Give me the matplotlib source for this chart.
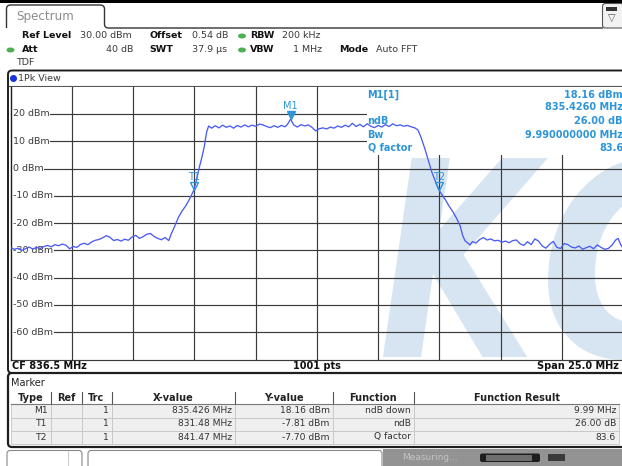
import numpy as np
import matplotlib
matplotlib.use("Agg")
import matplotlib.pyplot as plt
from matplotlib.patches import Rectangle, FancyBboxPatch, Ellipse, PathPatch
from matplotlib.path import Path
from matplotlib.textpath import TextPath
from matplotlib.font_manager import FontProperties
from matplotlib.transforms import Affine2D, offset_copy

# analyzer settings
cf = 836.5
span = 25.0
ref_level = 30.0
offset_db = 0.54
rbw_khz = 200
vbw_mhz = 1
att_db = 40
swt_us = 37.9
n_pts = 1001

# trace (MHz, dBm)
freq = [824.00, 824.15, 824.30, 824.45, 824.60, 824.75, 824.90, 825.05, 825.20, 825.35,
        825.50, 825.65, 825.80, 825.95, 826.10, 826.25, 826.40, 826.55, 826.70, 826.85,
        827.00, 827.15, 827.30, 827.45, 827.60, 827.75, 827.90, 828.05, 828.20, 828.35,
        828.50, 828.65, 828.80, 828.95, 829.10, 829.25, 829.40, 829.55, 829.70, 829.85,
        830.00, 830.15, 830.30, 830.45, 830.55, 830.70, 830.85, 831.00, 831.15, 831.30,
        831.48, 831.60, 831.70, 831.80, 831.90, 832.00, 832.08, 832.20, 832.35, 832.50,
        832.65, 832.80, 832.95, 833.10, 833.25, 833.40, 833.55, 833.70, 833.85, 834.00,
        834.15, 834.30, 834.45, 834.60, 834.75, 834.90, 835.05, 835.20, 835.30, 835.426,
        835.55, 835.70, 835.85, 836.00, 836.15, 836.30, 836.45, 836.60, 836.75, 836.90,
        837.05, 837.20, 837.35, 837.50, 837.65, 837.80, 837.95, 838.10, 838.25, 838.40,
        838.55, 838.70, 838.85, 839.00, 839.15, 839.30, 839.45, 839.60, 839.75, 839.90,
        840.05, 840.20, 840.35, 840.50, 840.62, 840.75, 840.90, 841.05, 841.20, 841.35,
        841.47, 841.60, 841.75, 841.90, 842.05, 842.20, 842.35, 842.45, 842.55, 842.65,
        842.75, 842.85, 843.00, 843.15, 843.30, 843.45, 843.60, 843.75, 843.90, 844.05,
        844.20, 844.35, 844.50, 844.65, 844.80, 844.95, 845.10, 845.25, 845.40, 845.55,
        845.70, 845.85, 846.00, 846.15, 846.30, 846.45, 846.60, 846.75, 846.90, 847.05,
        847.20, 847.35, 847.50, 847.65, 847.80, 847.95, 848.10, 848.25, 848.40, 848.55,
        848.70, 848.80, 848.90, 849.00]
level = [-29.0, -29.6, -29.2, -30.0, -29.4, -28.8, -29.5, -28.9, -29.3, -28.6,
         -28.2, -28.7, -27.9, -28.3, -27.7, -28.1, -29.4, -28.6, -28.9, -27.8,
         -27.4, -27.9, -26.9, -26.3, -26.0, -25.4, -24.6, -25.2, -26.4, -26.0,
         -26.6, -25.9, -26.3, -25.1, -24.5, -25.6, -25.0, -24.1, -23.8, -24.9,
         -25.6, -26.1, -25.3, -26.4, -24.0, -21.0, -17.8, -15.5, -13.6, -11.2,
         -7.81, -3.5, 0.5, 4.0, 8.0, 13.5, 15.6, 14.8, 15.7, 14.9,
         15.9, 15.1, 15.6, 14.8, 15.8, 15.2, 16.0, 15.3, 15.9, 15.5,
         16.3, 16.0, 15.4, 15.0, 15.7, 15.1, 15.8, 15.3, 16.2, 18.16,
         16.0, 15.2, 16.1, 15.6, 16.0, 15.1, 13.8, 14.6, 14.9, 14.5,
         15.2, 14.8, 15.6, 15.1, 15.9, 15.3, 16.6, 15.4, 16.2, 15.3,
         16.4, 15.5, 15.0, 15.8, 15.2, 16.1, 15.4, 16.4, 15.7, 16.0,
         15.5, 15.8, 15.3, 14.9, 14.2, 11.5, 7.5, 3.0, -1.5, -5.0,
         -7.70, -9.5, -11.5, -13.8, -15.8, -18.2, -21.0, -24.5, -26.5, -27.2,
         -28.0, -26.8, -27.3, -26.0, -25.3, -26.2, -25.8, -26.5, -26.3, -27.0,
         -26.6, -27.2, -26.4, -26.2, -27.6, -28.2, -26.8, -27.9, -25.8, -26.6,
         -28.4, -29.2, -27.8, -26.7, -28.9, -29.3, -27.5, -27.9, -28.8, -29.1,
         -28.4, -29.6, -29.0, -28.5, -29.4, -28.0, -28.9, -29.6, -29.3, -28.1,
         -26.2, -25.6, -27.8, -29.2]

# markers
marker_names = ["M1", "T1", "T2"]
marker_trc = [1, 1, 1]
marker_freq = [835.426, 831.48, 841.47]
marker_level = [18.16, -7.81, -7.70]
marker_func = ["ndB down", "ndB", "Q factor"]
func_result = ["9.99 MHz", "26.00 dB", "83.6"]
ndb = 26.00
bw_mhz = 9.99
q_factor = 83.6

W, H = 622, 466
fig = plt.figure(figsize=(W / 100, H / 100), dpi=100)
bg = fig.add_axes([0, 0, 1, 1])
bg.set_xlim(0, W)
bg.set_ylim(H, 0)
bg.axis("off")

dark = "#1e1e1e"
txt = "#3a3a3a"
mcol = "#2d95d8"
fs = 6.8

# top strip, tab and icon
bg.add_patch(Rectangle((0, 0), W, 2.5, fc="black", ec="none"))
tab = Path([(6.5, 28), (6.5, 9), (6.5, 5), (10.5, 5), (100, 5), (104.5, 5), (104.5, 9),
            (104.5, 24), (104.5, 28), (108.5, 28), (603, 28)],
           [Path.MOVETO, Path.LINETO, Path.CURVE3, Path.CURVE3, Path.LINETO, Path.CURVE3,
            Path.CURVE3, Path.LINETO, Path.CURVE3, Path.CURVE3, Path.LINETO])
bg.add_patch(PathPatch(tab, fc="none", ec="#333", lw=1.0))
bg.text(16, 16.5, "Spectrum", fontsize=8.6, color="#8c8c8c", va="center")
bg.add_patch(FancyBboxPatch((602.5, 3.5), 22, 24.5, boxstyle="round,pad=0,rounding_size=3",
                            fc="#f2f2f2", ec="#555", lw=0.8))
bg.add_patch(Rectangle((606, 6.5), 11, 4, fc="#333", ec="none"))
bg.text(611.5, 18, "\u25bd", fontsize=7, color="#555", ha="center", va="center")

# settings header
def label(x, y, s, bold=False, ha="left"):
    bg.text(x, y, s, fontsize=fs, color="#111" if bold else txt, ha=ha, va="center",
            weight="bold" if bold else "normal")

def led(x, y):
    bg.add_patch(Ellipse((x, y), 8, 5, fc="#4cb050", ec="none"))

label(22, 35.5, "Ref Level", True)
label(80, 35.5, f"{ref_level:.2f} dBm")
label(149, 35.5, "Offset", True)
label(192, 35.5, f"{offset_db:.2f} dB")
led(242, 36)
label(250, 35.5, "RBW", True)
label(282, 35.5, f"{rbw_khz} kHz")
led(10.5, 50)
label(22, 50, "Att", True)
label(133, 50, f"{att_db} dB", ha="right")
label(149, 50, "SWT", True)
label(192, 50, f"{swt_us} \u00b5s")
led(242, 50)
label(250, 50, "VBW", True)
label(322, 50, f"{vbw_mhz} MHz", ha="right")
label(339, 50, "Mode", True)
label(376, 50, "Auto FFT")
label(16, 62.5, "TDF")

# panel frames
bg.add_patch(FancyBboxPatch((8, 70.5), 700, 302.5, boxstyle="round,pad=0,rounding_size=4",
                            fc="none", ec=dark, lw=1.4))
bg.add_patch(FancyBboxPatch((8, 373), 700, 74, boxstyle="round,pad=0,rounding_size=4",
                            fc="none", ec=dark, lw=1.6))
bg.plot([9, W], [85.5, 85.5], color="#555", lw=0.8)
bg.add_patch(Ellipse((13.5, 78.5), 7, 7, fc="#1535d8", ec="none"))
label(18.5, 78.5, "1Pk View")

bg.text(12, 366, f"CF {cf} MHz", fontsize=7, weight="bold", color="#111", va="center")
bg.text(317, 366, f"{n_pts} pts", fontsize=7, weight="bold", color="#111", va="center", ha="center")
bg.text(619, 366, f"Span {span} MHz", fontsize=7, weight="bold", color="#111", va="center", ha="right")

# spectrum plot
pl, pr, pt, pb = 10.8, 623.0, 86.7, 359.5
ax = fig.add_axes([pl / W, 1 - pb / H, (pr - pl) / W, (pb - pt) / H])
ax.set_xlim(cf - span / 2, cf + span / 2)
ax.set_ylim(ref_level - 100, ref_level)
ax.set_xticks([])
ax.set_yticks([])
for s in ax.spines.values():
    s.set_visible(False)
ax.spines["left"].set_visible(True)
ax.spines["left"].set_color(dark)
ax.spines["left"].set_linewidth(1.0)

# watermark
wm = FontProperties(family="DejaVu Sans", weight="bold", style="italic")
def glyph(ch, x0, x1, y0, y1):
    p = TextPath((0, 0), ch, size=100, prop=wm)
    e = p.get_extents()
    tr = Affine2D().translate(-e.x0, -e.y0).scale((x1 - x0) / e.width, (y1 - y0) / e.height)
    tr = tr.translate(x0, H - y1)
    ax.add_patch(PathPatch(p, transform=tr, fc="#d6e5f1", ec="none", zorder=0.5))

glyph("K", 383, 548, 158, 357)
glyph("C", 548, 712, 156, 360)

xg = np.linspace(cf - span / 2, cf + span / 2, 11)
yg = np.arange(ref_level - 100, ref_level + 1, 10)
for v in xg[1:-1]:
    ax.axvline(v, color="#3a3a3a", lw=0.85, zorder=1)
for v in yg[:-1]:
    ax.axhline(v, color="#3a3a3a", lw=0.85, zorder=1, clip_on=False)

# marker readout area hides the grid
box_f0 = cf - span / 2 + (366.7 - pl) / (pr - pl) * span
ax.add_patch(Rectangle((box_f0, 5), cf + span / 2 - box_f0, ref_level - 5, fc="white",
                       ec="none", zorder=1.5))

for v in yg[1:-1]:
    ax.text(0.0036, v, f"{v:.0f} dBm", transform=ax.get_yaxis_transform(), fontsize=fs,
            color=txt, va="center", ha="left", zorder=2,
            bbox=dict(fc="white", ec="none", pad=0.6))

ax.plot(freq, level, color="#4b5cf3", lw=0.95, zorder=3)

tri = offset_copy(ax.transData, fig=fig, y=4, units="dots")
lab = offset_copy(ax.transData, fig=fig, y=8, units="dots")
for i, name in enumerate(marker_names):
    filled = name.startswith("M")
    ax.plot(marker_freq[i], marker_level[i], marker="v", ms=6 if filled else 5.5,
            mfc=mcol if filled else "none", mec=mcol, mew=1.0, transform=tri, zorder=4)
    ax.text(marker_freq[i], marker_level[i], name, transform=lab, fontsize=7, color=mcol,
            ha="center", va="bottom", zorder=4)

rd = bg.transData
left_txt = ["M1[1]", "", "ndB", "Bw", "Q factor"]
right_txt = [f"{marker_level[0]:.2f} dBm", f"{marker_freq[0]:.4f} MHz", f"{ndb:.2f} dB",
             f"{bw_mhz:.9f} MHz", f"{q_factor}"]
for i, ytxt in enumerate([94.5, 107.5, 121, 134.5, 148]):
    ax.text(367.5, ytxt, left_txt[i], transform=rd, fontsize=7, weight="bold", color=mcol,
            va="center", ha="left", zorder=5)
    ax.text(623, ytxt, right_txt[i], transform=rd, fontsize=7, weight="bold", color=mcol,
            va="center", ha="right", zorder=5)

# marker table
bg.text(11, 382.5, "Marker", fontsize=7, color="#222", va="center")
cols = [11, 50.5, 81.5, 111.5, 235, 332.5, 414, 619]
heads = ["Type", "Ref", "Trc", "X-value", "Y-value", "Function", "Function Result"]
for j, hd in enumerate(heads):
    bg.text((cols[j] + cols[j + 1]) / 2, 397.8, hd, fontsize=7, weight="bold", color="#222",
            ha="center", va="center")
for c in cols[1:-1]:
    bg.plot([c, c], [392, 404], color="#555", lw=0.8)
bg.plot([cols[0], cols[-1]], [404, 404], color="#777", lw=0.8)

row_y = [404, 417.5, 430.5, 443.5]
for i in range(3):
    cells = [marker_names[i], "", str(marker_trc[i]), f"{marker_freq[i]:g} MHz",
             f"{marker_level[i]:.2f} dBm", marker_func[i], func_result[i]]
    for j in range(7):
        bg.add_patch(Rectangle((cols[j], row_y[i]), cols[j + 1] - cols[j], row_y[i + 1] - row_y[i],
                               fc="#efefef", ec="#c6c6c6", lw=0.6))
        bg.text(cols[j + 1] - 3, (row_y[i] + row_y[i + 1]) / 2, cells[j], fontsize=6.6,
                color="#333", ha="right", va="center")

# status bar
bg.add_patch(Rectangle((0, 448.5), W, 18, fc="white", ec="none"))
bg.add_patch(FancyBboxPatch((7, 450.5), 75, 20, boxstyle="round,pad=0,rounding_size=3",
                            fc="white", ec="#888", lw=0.8))
bg.plot([68, 68], [451, 466], color="#cfcfcf", lw=0.8)
bg.add_patch(FancyBboxPatch((88, 450.5), 294, 20, boxstyle="round,pad=0,rounding_size=3",
                            fc="white", ec="#888", lw=0.8))
bg.add_patch(Rectangle((383, 449), 240, 18, fc="#939393", ec="none"))
bg.text(402, 458, "Measuring...", fontsize=6.5, color="#c4c4c4", va="center")
bg.add_patch(FancyBboxPatch((480, 453.5), 60, 8.5, boxstyle="round,pad=0,rounding_size=2",
                            fc="#1e1e1e", ec="none"))
bg.add_patch(Rectangle((486, 455), 46, 5.5, fc="#6e6e6e", ec="none"))
bg.add_patch(Rectangle((548, 454), 17, 7, fc="#3a3a3a", ec="none"))

fig.savefig("out.png", dpi=100)
